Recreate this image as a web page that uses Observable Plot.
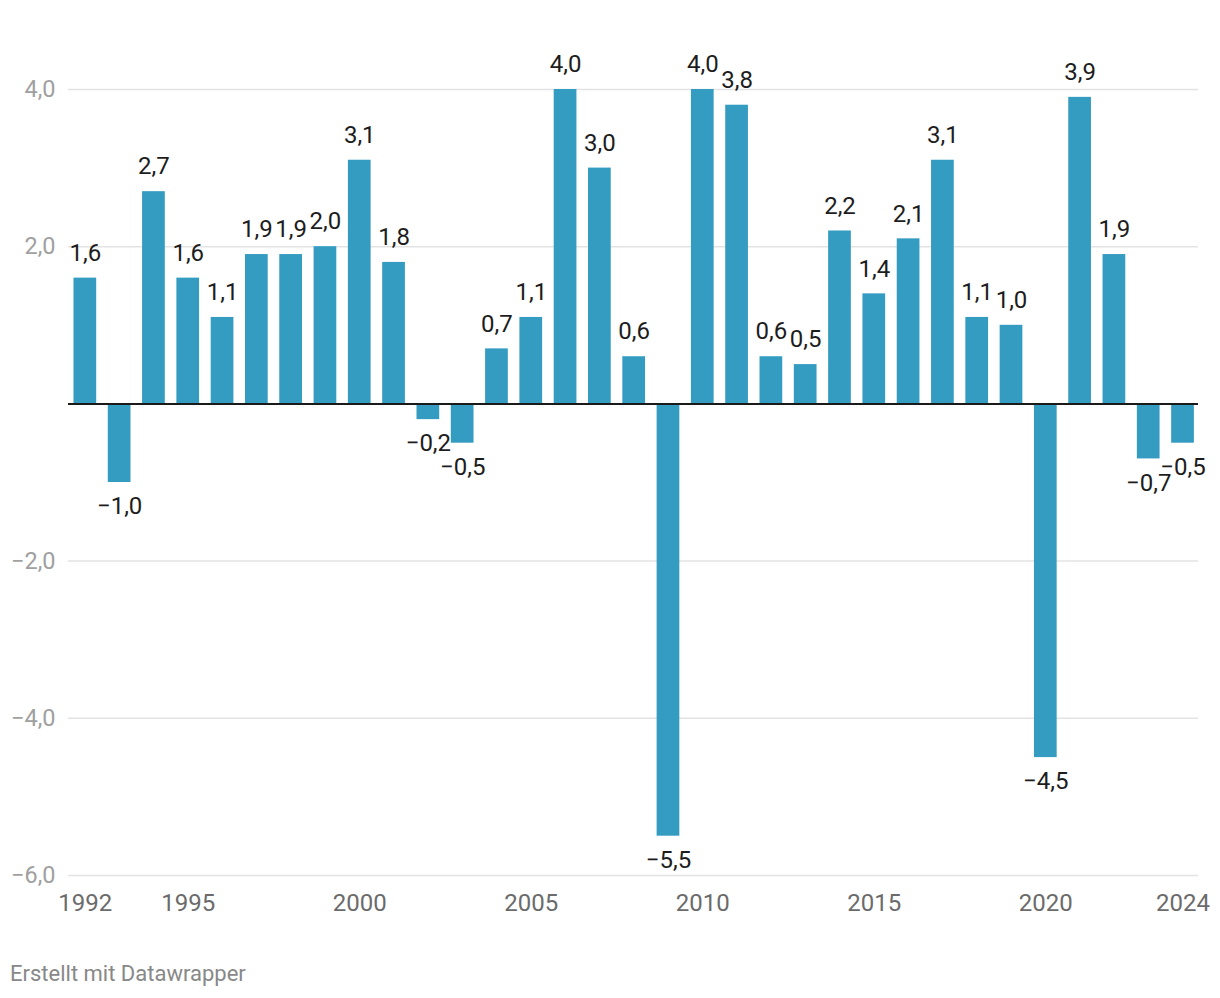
<!DOCTYPE html>
<html><head><meta charset="utf-8">
<script src="https://cdn.jsdelivr.net/npm/d3@7"></script>
<script src="https://cdn.jsdelivr.net/npm/@observablehq/plot@0.6"></script>
<style>
body{margin:0;background:#fff;font-family:Roboto,sans-serif}
#chart{position:relative;width:1220px;height:998px}
#footer{position:absolute;left:10px;top:961px;font-size:22px;line-height:26px;color:#888}
</style>
</head><body><div id="chart"><div id="plot"></div><div id="footer">Erstellt mit Datawrapper</div></div>
<script>
const years = [1992,1993,1994,1995,1996,1997,1998,1999,2000,2001,2002,2003,2004,2005,2006,2007,2008,2009,2010,2011,2012,2013,2014,2015,2016,2017,2018,2019,2020,2021,2022,2023,2024];
const values = [1.6,-1.0,2.7,1.6,1.1,1.9,1.9,2.0,3.1,1.8,-0.2,-0.5,0.7,1.1,4.0,3.0,0.6,-5.5,4.0,3.8,0.6,0.5,2.2,1.4,2.1,3.1,1.1,1.0,-4.5,3.9,1.9,-0.7,-0.5];
const yTicks = [-6,-4,-2,2,4];
const xTicks = [1992,1995,2000,2005,2010,2015,2020,2024];

const loc = d3.formatLocale({decimal:",", thousands:".", grouping:[3], currency:["","€"], minus:"\u2212"});
const fmt = loc.format(".1f");
const data = years.map((y,i)=>({year:y, value:values[i]}));
const pos = data.filter(d=>d.value>=0);
const neg = data.filter(d=>d.value<0);

const chart = Plot.plot({
  width:1220, height:930,
  marginTop:89, marginBottom:55, marginLeft:68, marginRight:22,
  style:{fontFamily:"Roboto, sans-serif", fontSize:"24px", background:"#fff"},
  x:{type:"band", domain:years, paddingInner:0.338, paddingOuter:0.14, align:0.57, round:false, axis:null},
  y:{domain:[-6,4], axis:null},
  marks:[
    Plot.gridY(yTicks,{stroke:"#e3e3e3", strokeOpacity:1, strokeWidth:1.5}),
    Plot.axisY(yTicks,{tickSize:0, tickPadding:13, tickFormat:fmt, color:"#a0a0a0", fontSize:23.5, label:null}),
    Plot.axisX(xTicks,{tickSize:0, tickPadding:18, tickFormat:d=>String(d), color:"#6b6b6b", fontSize:24, label:null}),
    Plot.barY(data,{x:"year", y:"value", fill:"#349bc1"}),
    Plot.ruleY([0],{stroke:"#1a1a1a", strokeWidth:2}),
    Plot.text(pos,{x:"year", y:"value", text:d=>fmt(d.value), dy:-25, lineAnchor:"middle", fill:"#1d1d1d", fontSize:24}),
    Plot.text(neg,{x:"year", y:"value", text:d=>fmt(d.value), dy:24, lineAnchor:"middle", fill:"#1d1d1d", fontSize:24})
  ]
});
document.getElementById("plot").appendChild(chart);
</script>
</body></html>
